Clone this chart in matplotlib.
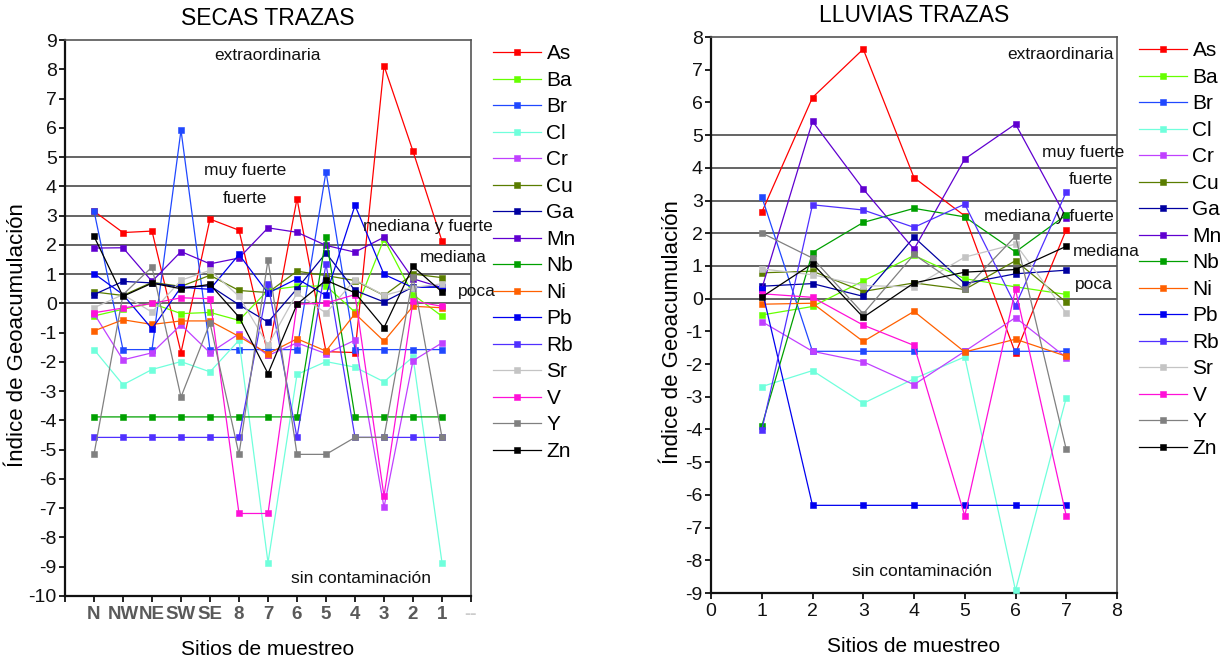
import matplotlib

matplotlib.use("Agg")
import matplotlib.pyplot as plt

plt.rcParams["font.family"] = ["Liberation Sans", "DejaVu Sans"]
plt.rcParams["axes.unicode_minus"] = False

elements = ["As", "Ba", "Br", "Cl", "Cr", "Cu", "Ga", "Mn",
            "Nb", "Ni", "Pb", "Rb", "Sr", "V", "Y", "Zn"]
colors = ["#ff0000", "#66ff00", "#2048ff", "#70ffdc", "#c040ff", "#5a7d00",
          "#0000a0", "#6000d0", "#00a000", "#ff6000", "#0000f0", "#5030ff",
          "#c4c4c4", "#ff10d8", "#808080", "#000000"]

# dry season, sites in sampling order
secas_sites = ["N", "NW", "NE", "SW", "SE", "8", "7", "6", "5", "4", "3", "2", "1"]
secas_as = [3.15, 2.42, 2.47, -1.68, 2.88, 2.5, -1.75, 3.58, -1.65, -1.68, 8.12, 5.2, 2.13]
secas_ba = [-0.43, -0.2, 0.0, -0.35, -0.31, -0.58, 0.45, 0.58, 0.6, -0.3, 2.2, 0.3, -0.44]
secas_br = [3.16, -1.58, -1.58, 5.92, -1.58, -1.58, -1.58, -1.58, 4.5, -1.58, -1.58, -1.58, -1.58]
secas_cl = [-1.58, -2.78, -2.26, -1.99, -2.34, -1.26, -8.86, -2.43, -1.99, -2.18, -2.68, -1.83, -8.86]
secas_cr = [-0.35, -1.93, -1.69, -0.73, -1.69, -1.04, -1.78, -1.35, -1.72, -1.26, -6.97, -1.96, -1.35]
secas_cu = [0.39, 0.27, 0.72, 0.58, 0.96, 0.44, 0.37, 1.1, 0.95, 0.78, 0.27, 1.0, 0.88]
secas_ga = [0.3, 0.75, 0.7, 0.55, 0.6, -0.05, -0.64, 0.5, 1.72, 0.44, 0.05, 0.56, 0.55]
secas_mn = [1.89, 1.9, 0.75, 1.77, 1.35, 1.55, 2.58, 2.43, 1.98, 1.75, 2.26, 0.84, 0.54]
secas_nb = [-3.88, -3.88, -3.88, -3.88, -3.88, -3.88, -3.88, -3.88, 2.26, -3.88, -3.88, -3.88, -3.88]
secas_ni = [-0.94, -0.56, -0.72, -0.6, -0.6, -1.13, -1.72, -1.21, -1.63, -0.35, -1.29, -0.1, -0.15]
secas_pb = [1.02, 0.3, -0.87, 0.55, 0.48, 1.67, 0.35, 0.84, 0.27, 3.35, 0.99, 0.54, 0.57]
secas_rb = [-4.58, -4.58, -4.58, -4.58, -4.58, -4.58, 0.65, -4.58, 1.35, -4.58, -4.58, -4.58, -4.58]
secas_sr = [-0.15, 0.3, -0.3, 0.79, 1.13, 0.24, -1.43, 0.35, -0.33, 0.81, 0.27, 0.54, 0.67]
secas_v = [-0.32, -0.16, 0.0, 0.19, 0.16, -7.18, -7.18, -0.03, 0.01, 0.3, -6.59, 0.08, -0.1]
secas_y = [-5.16, 0.3, 1.24, -3.2, -0.67, -5.16, 1.49, -5.16, -5.16, -4.58, -4.58, 0.9, -4.58]
secas_zn = [2.29, 0.24, 0.69, 0.5, 0.65, -0.47, -2.4, -0.03, 0.79, 0.36, -0.83, 1.26, 0.39]

# rainy season, sites 1-7
lluvias_sites = [1, 2, 3, 4, 5, 6, 7]
lluvias_as = [2.64, 6.15, 7.63, 3.7, 2.53, -1.67, 2.11]
lluvias_ba = [-0.5, -0.24, 0.54, 1.32, 0.61, 0.36, 0.13]
lluvias_br = [3.12, -1.61, -1.61, -1.61, -1.61, -1.61, -1.61]
lluvias_cl = [-2.69, -2.2, -3.2, -2.45, -1.78, -8.92, -3.03]
lluvias_cr = [-0.7, -1.61, -1.93, -2.63, -1.61, -0.58, -1.8]
lluvias_cu = [0.79, 0.84, 0.22, 0.48, 0.28, 1.16, -0.11]
lluvias_ga = [0.38, 0.46, 0.07, 1.88, 0.46, 0.76, 0.87]
lluvias_mn = [0.3, 5.42, 3.35, 1.51, 4.27, 5.34, 2.48]
lluvias_nb = [-3.9, 1.41, 2.33, 2.76, 2.5, 1.43, 2.56]
lluvias_ni = [-0.17, -0.14, -1.31, -0.39, -1.63, -1.24, -1.76]
lluvias_pb = [0.3, -6.32, -6.32, -6.32, -6.32, -6.32, -6.32]
lluvias_rb = [-4.02, 2.87, 2.71, 2.18, 2.89, -0.21, 3.26]
lluvias_sr = [0.91, 0.73, 0.4, 0.36, 1.27, 1.67, -0.44]
lluvias_v = [0.15, 0.04, -0.81, -1.43, -6.64, 0.28, -6.64]
lluvias_y = [2.01, 1.24, -0.46, 1.35, 0.28, 1.91, -4.61]
lluvias_zn = [0.05, 1.07, -0.57, 0.48, 0.81, 0.89, 1.6]

secas = [secas_as, secas_ba, secas_br, secas_cl, secas_cr, secas_cu, secas_ga, secas_mn,
         secas_nb, secas_ni, secas_pb, secas_rb, secas_sr, secas_v, secas_y, secas_zn]
lluvias = [lluvias_as, lluvias_ba, lluvias_br, lluvias_cl, lluvias_cr, lluvias_cu,
           lluvias_ga, lluvias_mn, lluvias_nb, lluvias_ni, lluvias_pb, lluvias_rb,
           lluvias_sr, lluvias_v, lluvias_y, lluvias_zn]

# Igeo class boundaries
class_limits = [0, 1, 2, 3, 4, 5]

W, H = 1221, 661


def draw_panel(ax, xs, series, title, ylabel_x):
    for limit in class_limits:
        ax.axhline(limit, color="#4a4a4a", linewidth=1.2, zorder=1)
    for name, color, ys in zip(elements, colors, series):
        ax.plot(xs, ys, color=color, linewidth=0.9, marker="s", markersize=4.6,
                markeredgewidth=0.4, markeredgecolor=color, label=name, zorder=3)
    ax.set_title(title, fontsize=16.5, pad=11)
    ax.set_xlabel("Sitios de muestreo", fontsize=15, labelpad=12)
    ax.set_ylabel("Índice de Geoacumulación", fontsize=16)
    ax.yaxis.set_label_coords(ylabel_x, 0.47)
    for side in ("left", "bottom"):
        ax.spines[side].set_linewidth(1.6)
        ax.spines[side].set_color("#111111")
    for side in ("top", "right"):
        ax.spines[side].set_linewidth(1.2)
        ax.spines[side].set_color("#555555")
    ax.tick_params(direction="out", length=4, width=1.3, labelsize=14, colors="#111111")
    ax.tick_params(axis="y", pad=2)
    ax.legend(loc="upper left", bbox_to_anchor=(1.055, 0.992), frameon=False,
              fontsize=15, handlelength=2.3, handletextpad=0.25, labelspacing=0.36,
              borderaxespad=0.0, borderpad=0.0)


def class_label(ax, x, y, text, ha="center"):
    ax.text(x, y, text, fontsize=12.5, ha=ha, va="center", color="#111111",
            clip_on=False, zorder=4)


fig = plt.figure(figsize=(W / 100, H / 100), dpi=100)

ax1 = fig.add_axes([65 / W, 1 - 596 / H, 406 / W, 556 / H])
secas_x = list(range(1, len(secas_sites) + 1))
draw_panel(ax1, secas_x, secas, "SECAS TRAZAS", -0.092)
ax1.set_xlim(0, len(secas_sites) + 1)
ax1.set_ylim(-10, 9)
ax1.set_yticks(range(-10, 10))
ax1.set_xticks(range(0, len(secas_sites) + 2))
ax1.set_xticklabels([""] + secas_sites + ["--"], fontsize=13.5, fontweight="bold")
for lbl in ax1.get_xticklabels():
    lbl.set_color("#5a5a5a")
ax1.get_xticklabels()[-1].set_color("#cccccc")
class_label(ax1, 7.0, 8.46, "extraordinaria")
class_label(ax1, 6.2, 4.54, "muy fuerte")
class_label(ax1, 6.2, 3.58, "fuerte")
class_label(ax1, 12.5, 2.63, "mediana y fuerte")
class_label(ax1, 13.4, 1.57, "mediana")
class_label(ax1, 14.2, 0.41, "poca")
class_label(ax1, 10.2, -9.39, "sin contaminación")

ax2 = fig.add_axes([711 / W, 1 - 593 / H, 406 / W, 556 / H])
draw_panel(ax2, lluvias_sites, lluvias, "LLUVIAS TRAZAS", -0.07)
ax2.set_xlim(0, 8)
ax2.set_ylim(-9, 8)
ax2.set_xticks(range(0, 9))
ax2.set_yticks(range(-9, 9))
class_label(ax2, 7.94, 7.48, "extraordinaria", ha="right")
class_label(ax2, 8.14, 4.48, "muy fuerte", ha="right")
class_label(ax2, 7.92, 3.63, "fuerte", ha="right")
class_label(ax2, 7.94, 2.5, "mediana y fuerte", ha="right")
class_label(ax2, 7.13, 1.43, "mediana", ha="left")
class_label(ax2, 7.92, 0.42, "poca", ha="right")
class_label(ax2, 4.16, -8.33, "sin contaminación")

fig.savefig("out.png", dpi=100)
plt.close(fig)
